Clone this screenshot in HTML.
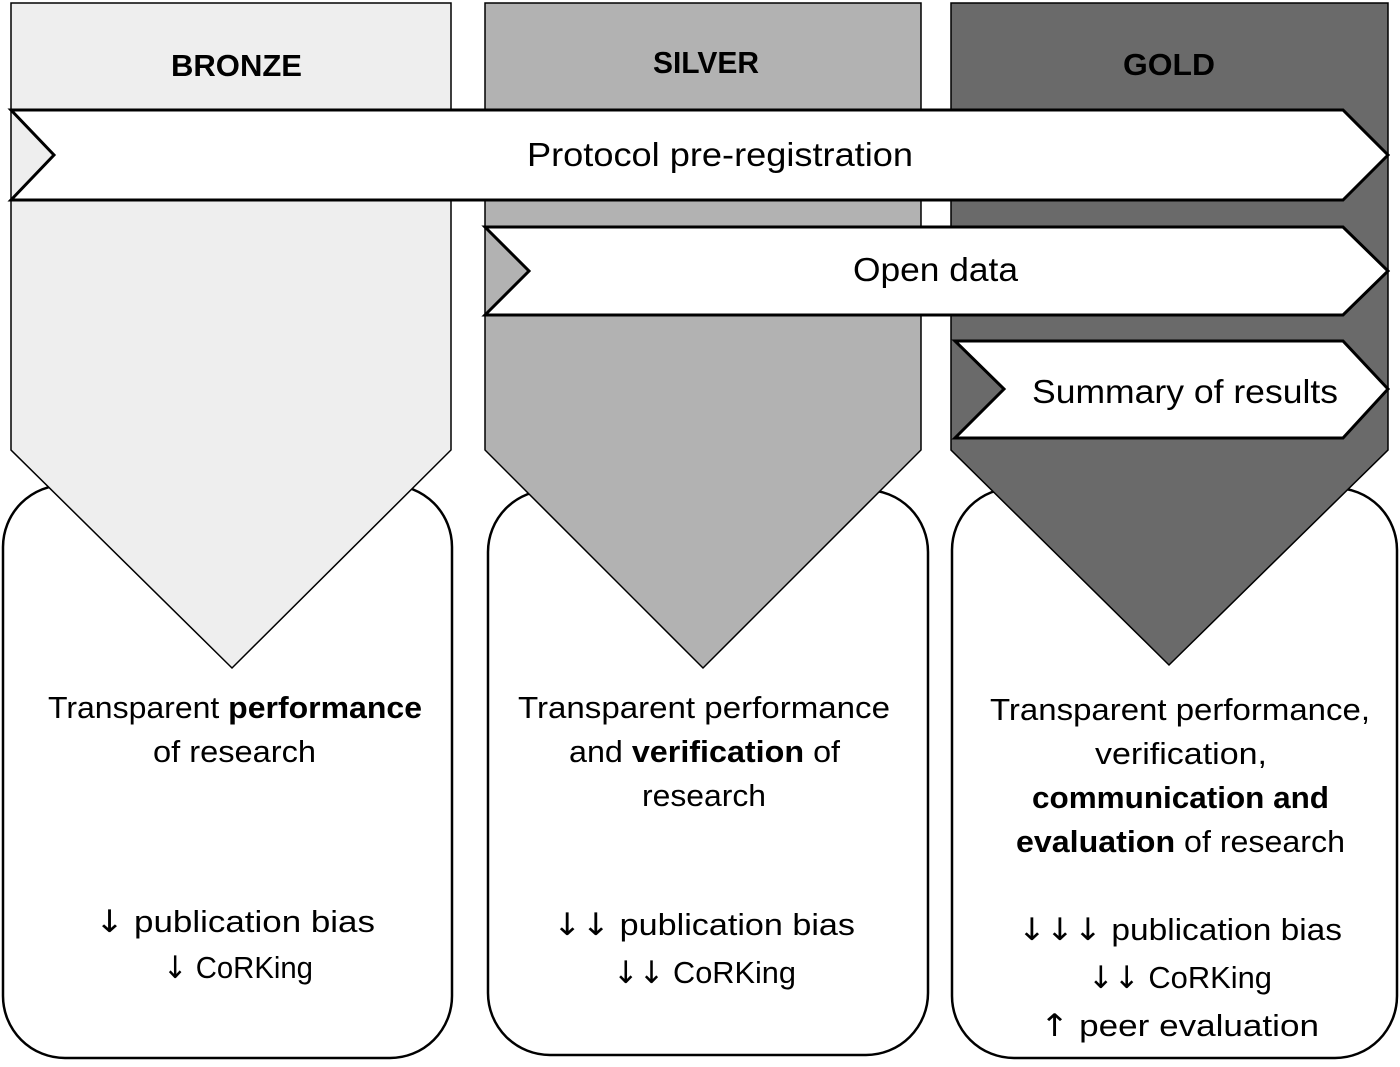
<!DOCTYPE html>
<html><head><style>
html,body{margin:0;padding:0;background:#fff}
svg{display:block}
text{font-family:"Liberation Sans",sans-serif;fill:#000}
.a{font-family:"DejaVu Sans",sans-serif}
</style></head><body>
<svg width="1400" height="1067" viewBox="0 0 1400 1067" xmlns="http://www.w3.org/2000/svg">
<rect x="3" y="485" width="449" height="573" rx="62" fill="#fff" stroke="#000" stroke-width="2.5"/>
<rect x="488" y="490" width="440" height="565" rx="62" fill="#fff" stroke="#000" stroke-width="2.5"/>
<rect x="952" y="488" width="445" height="570" rx="62" fill="#fff" stroke="#000" stroke-width="2.5"/>
<polygon points="11,3 451,3 451,450 232,668 11,450" fill="#eeeeee" stroke="#000" stroke-width="1.5"/>
<polygon points="485,3 921,3 921,450 703,668 485,450" fill="#b2b2b2" stroke="#000" stroke-width="1.5"/>
<polygon points="951,3 1388,3 1388,450 1169,665 951,450" fill="#6a6a6a" stroke="#000" stroke-width="1.5"/>
<g font-size="31" font-weight="bold" lengthAdjust="spacingAndGlyphs">
<text x="171" y="76" textLength="131" lengthAdjust="spacingAndGlyphs">BRONZE</text>
<text x="653" y="73" textLength="106" lengthAdjust="spacingAndGlyphs">SILVER</text>
<text x="1123" y="75" textLength="92" lengthAdjust="spacingAndGlyphs">GOLD</text>
</g>
<polygon points="11,110 1343,110 1388,155 1343,200 11,200 54,155" fill="#fff" stroke="#000" stroke-width="3"/>
<text x="527" y="166" font-size="33" textLength="386" lengthAdjust="spacingAndGlyphs">Protocol pre-registration</text>
<polygon points="485,227 1343,227 1388,271 1343,315 485,315 529,271" fill="#fff" stroke="#000" stroke-width="3"/>
<text x="853" y="281" font-size="33" textLength="165" lengthAdjust="spacingAndGlyphs">Open data</text>
<polygon points="955,341 1343,341 1388,389 1343,438 955,438 1004,389" fill="#fff" stroke="#000" stroke-width="3"/>
<text x="1032" y="403" font-size="33" textLength="306" lengthAdjust="spacingAndGlyphs">Summary of results</text>
<g font-size="31">
<text x="48" y="718" textLength="374" lengthAdjust="spacingAndGlyphs">Transparent <tspan font-weight="bold">performance</tspan></text>
<text x="153" y="762" textLength="163" lengthAdjust="spacingAndGlyphs">of research</text>
<text x="95" y="932" textLength="280" lengthAdjust="spacingAndGlyphs"><tspan class="a">↓</tspan> publication bias</text>
<text x="163" y="978" textLength="150" lengthAdjust="spacingAndGlyphs"><tspan class="a">↓</tspan> CoRKing</text>

<text x="518" y="718" textLength="372" lengthAdjust="spacingAndGlyphs">Transparent performance</text>
<text x="569" y="762" textLength="271" lengthAdjust="spacingAndGlyphs">and <tspan font-weight="bold">verification</tspan> of</text>
<text x="642" y="806" textLength="124" lengthAdjust="spacingAndGlyphs">research</text>
<text x="553" y="935" textLength="302" lengthAdjust="spacingAndGlyphs"><tspan class="a">↓↓</tspan> publication bias</text>
<text x="613" y="983" textLength="183" lengthAdjust="spacingAndGlyphs"><tspan class="a">↓↓</tspan> CoRKing</text>

<text x="990" y="720" textLength="380" lengthAdjust="spacingAndGlyphs">Transparent performance,</text>
<text x="1095" y="764" textLength="172" lengthAdjust="spacingAndGlyphs">verification,</text>
<text x="1032" y="808" font-weight="bold" textLength="297" lengthAdjust="spacingAndGlyphs">communication and</text>
<text x="1016" y="852" textLength="329" lengthAdjust="spacingAndGlyphs"><tspan font-weight="bold">evaluation</tspan> of research</text>
<text x="1018" y="940" textLength="324" lengthAdjust="spacingAndGlyphs"><tspan class="a">↓↓↓</tspan> publication bias</text>
<text x="1088" y="988" textLength="184" lengthAdjust="spacingAndGlyphs"><tspan class="a">↓↓</tspan> CoRKing</text>
<text x="1040" y="1036" textLength="279" lengthAdjust="spacingAndGlyphs"><tspan class="a">↑</tspan> peer evaluation</text>
</g>
</svg>
</body></html>
